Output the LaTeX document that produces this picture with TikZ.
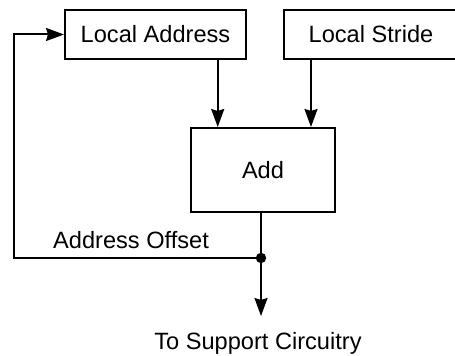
\documentclass[tikz,border=0pt]{standalone}
\usepackage{fontspec}
\setmainfont{Liberation Sans}
\usetikzlibrary{arrows.meta, positioning, calc}

\tikzset {
  box/.style = {draw, line width=1pt, rectangle, inner sep=0pt, font=\fontsize{11.8}{14}\selectfont},
  label/.style = {inner sep=0pt, font=\fontsize{11.8}{14}\selectfont},
  line/.style = {-{Stealth[length=9pt, width=6.5pt, inset=1pt]}, line width=1pt, color=black},
  wire/.style = {line width=1pt, color=black},
}

\begin{document}
\begin{tikzpicture}[x=0.5pt, y=-0.5pt]
    \useasboundingbox (0,0) rectangle (455,356);

    \node[box, minimum width=90.5pt, minimum height=24.5pt] (addr) at (155.5,34.5) {Local Address};
    \node[box, minimum width=87pt, minimum height=24.5pt] (stride) at (371,34.5) {Local Stride};
    \node[box, minimum width=72pt, minimum height=42pt] (add) at (263,170) {Add};

    \coordinate (split) at (261,258);
    \coordinate (back) at (14,258);
    \node[label] (offset) at (131,240) {Address Offset};
    \node[label] (support) at (258,343) {To Support Circuitry};

    % operands into the adder
    \coordinate (tapA) at ($(addr.south west)!0.84!(addr.south east)$);
    \coordinate (tapS) at ([xshift=14pt]stride.south west);
    \draw[line] (tapA) -- (tapA |- add.north);
    \draw[line] (tapS) -- (tapS |- add.north);

    % result and feedback loop
    \draw[wire] (split |- add.south) -- (split);
    \draw[line] (split) -- ([yshift=-29pt]split);
    \draw[line] (split) -- (back) |- (addr.west);
    \fill (split) circle (2.6pt);

\end{tikzpicture}
\end{document}
